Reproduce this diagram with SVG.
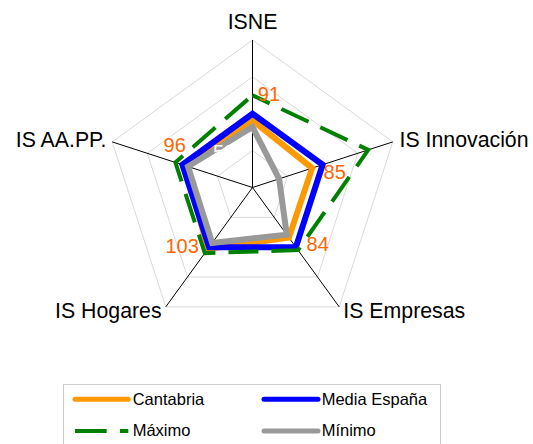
<svg xmlns="http://www.w3.org/2000/svg" width="533" height="444" viewBox="0 0 533 444">
<style>
text{font-family:"Liberation Sans",Arial,sans-serif}
.ax{font-size:21.3px;fill:#000}
.dl{font-size:20px;fill:#FF6600}
.lg{font-size:16.5px;fill:#000}
.grid{fill:none;stroke:#D9D9D9;stroke-width:1}
.axis{stroke:#000;stroke-width:1}
.s{fill:none;stroke-linejoin:miter;stroke-miterlimit:10}
.cant{stroke:#FF9900;stroke-width:6}
.media{stroke:#0000FF;stroke-width:6}
.max{stroke:#008000;stroke-width:4;stroke-dasharray:30 13;stroke-dashoffset:11}
.min{stroke:#999999;stroke-width:6}
</style>
<rect width="533" height="444" fill="#fff"/>
<g id="grid">
<polygon class="grid" points="252.5,40 392.78,141.92 339.2,306.83 165.8,306.83 112.22,141.92"/>
<polygon class="grid" points="252.5,76.88 357.71,153.32 317.52,277 187.48,277 147.29,153.32"/>
<polygon class="grid" points="252.5,113.75 322.64,164.71 295.85,247.16 209.15,247.16 182.36,164.71"/>
<polygon class="grid" points="252.5,150.63 287.57,176.11 274.17,217.33 230.83,217.33 217.43,176.11"/>
</g>
<g id="axes">
<line class="axis" x1="252.5" y1="187.5" x2="252.5" y2="40"/>
<line class="axis" x1="252.5" y1="187.5" x2="392.78" y2="141.92"/>
<line class="axis" x1="252.5" y1="187.5" x2="339.2" y2="306.83"/>
<line class="axis" x1="252.5" y1="187.5" x2="165.8" y2="306.83"/>
<line class="axis" x1="252.5" y1="187.5" x2="112.22" y2="141.92"/>
</g>
<g id="axis-labels">
<text id="lbl-isne" class="ax" x="252.5" y="29.3" text-anchor="middle">ISNE</text>
<text id="lbl-innov" class="ax" x="399.5" y="146.7">IS Innovación</text>
<text id="lbl-empresas" class="ax" x="343.3" y="318">IS Empresas</text>
<text id="lbl-hogares" class="ax" x="161.6" y="318" text-anchor="end">IS Hogares</text>
<text id="lbl-aapp" class="ax" x="106.5" y="146.7" text-anchor="end">IS AA.PP.</text>
</g>
<g id="series">
<polygon id="cantabria" class="s cant" points="252.5,120.39 312.12,168.13 288.91,237.62 207.85,248.95 185.16,165.62"/>
<polygon id="media" class="s media" points="252.5,113.75 322.64,164.71 295.85,247.16 209.15,247.16 182.36,164.71"/>
<polygon id="maximo" class="s max" points="252.5,95.31 368.24,149.9 298.02,250.15 204.83,253.11 175.37,162.44"/>
<polygon id="minimo" class="s min" points="252.5,127.02 279.1,178.8 286.75,234.63 212.18,242.99 187.97,166.53"/>
</g>
<g id="data-labels">
<text class="dl" x="257.8" y="100.7">91</text>
<text class="dl" x="323.6" y="179">85</text>
<text class="dl" x="306.6" y="250.7">84</text>
<text class="dl" x="165.5" y="253.3">103</text>
<text class="dl" x="163.6" y="151.7">96</text>
<text x="213" y="158.5" style="font-size:20px;fill:#fff">58</text>
</g>
<g id="legend">
<rect x="63.5" y="384.5" width="377" height="70" fill="none" stroke="#CCCCCC" stroke-width="1"/>
<line x1="75" y1="399.3" x2="128.3" y2="399.3" stroke="#FF9900" stroke-width="5" stroke-linecap="round"/>
<text class="lg" x="132.7" y="405">Cantabria</text>
<line x1="264" y1="399.3" x2="318" y2="399.3" stroke="#0000FF" stroke-width="5" stroke-linecap="round"/>
<text class="lg" x="321.7" y="405">Media España</text>
<line x1="75" y1="431" x2="128.3" y2="431" stroke="#008000" stroke-width="4" stroke-dasharray="31.7 13.3 8.3 20"/>
<text class="lg" x="132.7" y="436">Máximo</text>
<line x1="264" y1="431" x2="318" y2="431" stroke="#999999" stroke-width="5" stroke-linecap="round"/>
<text class="lg" x="321.7" y="436">Mínimo</text>
</g>
</svg>
